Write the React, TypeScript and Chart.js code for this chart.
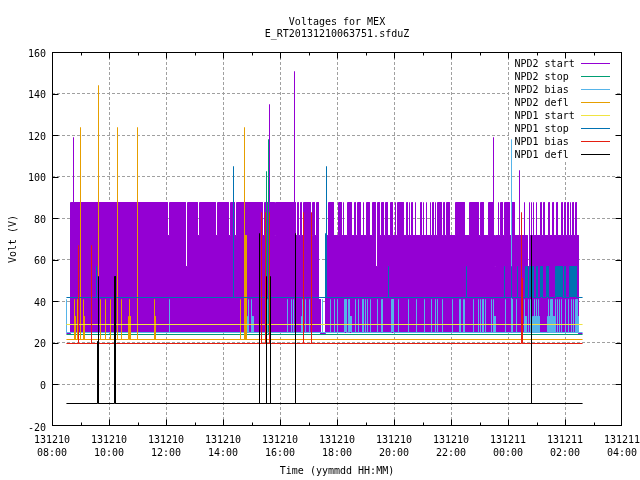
import React, { useEffect, useRef } from "react";
import { Chart, registerables } from "chart.js";

Chart.register(...registerables);

type Pulse = number[];

const MONO = "'DejaVu Sans Mono'";
const chartTitle = ["Voltages for MEX", "E_RT20131210063751.sfduZ"];
const xTitle = "Time (yymmdd HH:MM)";
const yTitle = "Volt (V)";
const dayLabels = ["131210", "131210", "131210", "131210", "131210", "131210", "131210", "131210", "131211", "131211", "131211"];
const hourLabels = ["08:00", "10:00", "12:00", "14:00", "16:00", "18:00", "20:00", "22:00", "00:00", "02:00", "04:00"];
const seriesNames = ["NPD2 start", "NPD2 stop", "NPD2 bias", "NPD2 defl", "NPD1 start", "NPD1 stop", "NPD1 bias", "NPD1 defl"];
const seriesColors = ["#9400d3", "#009e73", "#56b4e9", "#e69f00", "#f0e442", "#0072b2", "#e51e10", "#000000"];

// x values are hours after 08:00; pulses are [from, to, level]
const traceStart = 0.48;
const traceEnd = 18.58;

const npd2StartEarly: Pulse[] = [
  [0.74, 0.74, 119], [4.04, 4.1, 72], [4.67, 4.73, 57], [5.09, 5.15, 72], [5.72, 5.78, 72], [6.18, 6.24, 72], [6.39, 6.45, 72],
  [7.37, 7.43, 72], [7.61, 7.61, 135], [7.78, 7.84, 72], [8.49, 8.49, 151], [8.53, 8.59, 72], [8.64, 8.7, 72], [8.74, 8.8, 72],
  [9.06, 9.12, 72], [9.2, 9.26, 72],
];
const npd2StartLate: Pulse[] = [
  [9.69, 9.87, 88], [10.02, 10.15, 88], [10.22, 10.22, 88], [10.36, 10.5, 88], [10.58, 10.64, 88], [10.71, 10.81, 88],
  [10.91, 10.91, 88], [11.02, 11.13, 88], [11.22, 11.32, 88], [11.34, 11.4, 57], [11.41, 11.46, 88], [11.55, 11.6, 88],
  [11.69, 11.76, 88], [11.86, 11.93, 88], [12.04, 12.04, 88], [12.11, 12.32, 88], [12.42, 12.46, 88], [12.53, 12.53, 88],
  [12.6, 12.63, 88], [12.74, 12.74, 88], [12.91, 12.95, 88], [13.02, 13.02, 88], [13.12, 13.12, 88], [13.26, 13.26, 88],
  [13.33, 13.37, 88], [13.44, 13.44, 88], [13.51, 13.65, 88], [13.72, 13.75, 88], [13.82, 13.93, 88],
  [14.14, 14.46, 88], [14.64, 14.95, 88], [15.02, 15.13, 88], [15.31, 15.47, 88], [15.47, 15.47, 119], [15.5, 15.56, 57],
  [15.66, 15.66, 88], [15.73, 15.8, 88], [15.87, 16.04, 88], [16.11, 16.22, 88], [16.39, 16.39, 103], [16.57, 16.57, 88],
  [16.67, 16.73, 57], [16.74, 16.74, 88], [16.81, 16.81, 88], [16.88, 16.88, 88], [16.99, 16.99, 88], [17.13, 17.17, 88],
  [17.24, 17.27, 88], [17.41, 17.45, 88], [17.55, 17.59, 88], [17.69, 17.73, 88], [17.86, 17.9, 88], [17.97, 18.0, 88],
  [18.08, 18.11, 88], [18.18, 18.18, 88], [18.25, 18.29, 88], [18.35, 18.39, 88],
];
const npd2StopPulses: Pulse[] = [[7.51, 7.51, 102.5], [7.58, 7.58, 118]];
const npd2BiasPulses: Pulse[] = [
  [0.5, 0.5, 41], [4.09, 4.09, 41], [6.83, 6.88, 33], [6.88, 6.88, 41], [6.98, 7.04, 33], [6.98, 6.98, 41], [7.56, 7.56, 41],
  [8.25, 8.25, 41], [8.39, 8.39, 41], [8.46, 8.46, 41], [8.74, 8.77, 33], [8.77, 8.77, 41], [8.88, 8.88, 41], [9.02, 9.02, 41],
  [9.47, 9.47, 41], [9.75, 9.75, 41], [9.89, 9.89, 41], [10.0, 10.0, 41], [10.25, 10.32, 41], [10.4, 10.43, 41], [10.43, 10.48, 33],
  [10.63, 10.63, 41], [10.74, 10.74, 41], [10.88, 10.92, 41], [10.98, 10.98, 41], [11.05, 11.05, 41], [11.16, 11.16, 41],
  [11.4, 11.4, 41], [11.55, 11.59, 41], [11.9, 11.97, 41], [12.14, 12.14, 41], [12.49, 12.49, 41], [12.77, 12.77, 41],
  [13.05, 13.05, 41], [13.3, 13.3, 41], [13.44, 13.44, 41], [13.51, 13.51, 41], [13.68, 13.68, 41], [14.04, 14.04, 41],
  [14.29, 14.32, 41], [14.41, 14.41, 41], [14.44, 14.46, 41], [14.77, 14.77, 41], [14.95, 14.95, 41], [15.02, 15.02, 41],
  [15.1, 15.13, 41], [15.19, 15.19, 41], [15.4, 15.4, 41], [15.47, 15.55, 33], [15.47, 15.47, 41], [15.89, 15.89, 41],
  [16.11, 16.11, 118], [16.12, 16.15, 41], [16.28, 16.28, 41], [16.56, 16.62, 33], [16.55, 16.55, 41], [16.7, 16.7, 41],
  [16.83, 17.08, 33], [16.78, 16.82, 41], [16.9, 16.9, 41], [16.97, 16.97, 41], [17.05, 17.05, 41], [17.37, 17.6, 33],
  [17.39, 17.42, 41], [17.48, 17.56, 41], [17.65, 17.65, 41], [17.72, 17.72, 41], [17.79, 17.79, 41], [17.86, 17.86, 41],
  [18.0, 18.0, 41], [18.09, 18.12, 41], [18.21, 18.21, 41], [18.28, 18.28, 41], [18.35, 18.45, 33], [18.35, 18.42, 41],
];
const npd2DeflPulses: Pulse[] = [
  [0.77, 0.82, 33], [0.77, 0.77, 41], [0.88, 0.88, 41], [0.98, 0.98, 124], [1.09, 1.14, 33], [1.09, 1.09, 41], [1.61, 1.61, 144],
  [1.68, 1.68, 41], [1.86, 1.86, 41], [2.03, 2.03, 41], [2.28, 2.28, 124], [2.42, 2.42, 41], [2.65, 2.72, 33], [2.7, 2.7, 41],
  [2.98, 2.98, 124], [3.58, 3.63, 33], [3.58, 3.58, 41], [6.6, 6.6, 41], [6.74, 6.79, 72], [6.74, 6.74, 124],
];
const npd1StartPulses: Pulse[] = [];
const npd1StopPulses: Pulse[] = [
  [1.54, 1.54, 57], [6.35, 6.35, 105], [9.57, 9.57, 73], [9.6, 9.6, 105], [11.79, 11.79, 57], [14.53, 14.53, 57], [15.86, 15.86, 57],
  [16.11, 16.11, 57], [16.3, 16.3, 57], [16.6, 16.6, 57], [16.63, 16.66, 57], [16.75, 16.81, 57], [16.84, 16.86, 57], [16.97, 17.03, 57],
  [17.13, 17.21, 57], [17.33, 17.42, 57], [17.66, 17.91, 57], [17.97, 18.0, 57], [18.15, 18.4, 57],
];
const npd1BiasPulses: Pulse[] = [
  [0.91, 0.91, 67], [1.37, 1.37, 67], [7.33, 7.33, 83], [7.47, 7.47, 83], [7.61, 7.61, 83], [8.81, 8.81, 83], [9.09, 9.09, 83],
  [16.46, 16.46, 83], [16.46, 16.5, 51],
];
const npd1DeflPulses: Pulse[] = [
  [1.59, 1.62, 21], [1.61, 1.61, 52], [2.18, 2.22, 52], [7.26, 7.26, 73], [7.51, 7.51, 52], [7.65, 7.65, 52], [8.53, 8.53, 73],
  [16.81, 16.81, 72],
];

const npd2StartLevel = 24.76;
const npd2StopLevel = 24.3;
const npd2BiasLevel = 25.24;
const npd2DeflLevel = 21.9;
const npd1StartLevel = 29.1;
const npd1StopLevel = 42.1;
const npd1BiasLevel = 19.95;
const npd1DeflLevel = -8.9;

function trace(from: number, to: number, level: number, pulses: Pulse[]) {
  const pts: { x: number; y: number }[] = [{ x: from, y: level }];
  for (const [a, b, top] of pulses) {
    pts.push({ x: a, y: level }, { x: a, y: top }, { x: b, y: top }, { x: b, y: level });
  }
  pts.push({ x: to, y: level });
  return pts;
}

const npd2StartPoints = [
  ...trace(traceStart, 0.62, npd2StartLevel, []),
  ...trace(0.62, 9.32, 88, npd2StartEarly),
  ...trace(9.32, 9.39, 41, []),
  ...trace(9.39, 9.57, npd2StartLevel, []),
  ...trace(9.57, 18.45, 72, npd2StartLate),
  ...trace(18.45, traceEnd, npd2StartLevel, []),
];

const seriesPoints = [
  npd2StartPoints,
  trace(traceStart, traceEnd, npd2StopLevel, npd2StopPulses),
  trace(traceStart, traceEnd, npd2BiasLevel, npd2BiasPulses),
  trace(traceStart, traceEnd, npd2DeflLevel, npd2DeflPulses),
  trace(traceStart, traceEnd, npd1StartLevel, npd1StartPulses),
  trace(traceStart, traceEnd, npd1StopLevel, npd1StopPulses),
  trace(traceStart, traceEnd, npd1BiasLevel, npd1BiasPulses),
  trace(traceStart, traceEnd, npd1DeflLevel, npd1DeflPulses),
];
const fillLevels = [npd2StartLevel, npd2StopLevel, npd2BiasLevel, npd2DeflLevel, npd1StartLevel, npd1StopLevel, npd1BiasLevel, npd1DeflLevel];

const frame = {
  id: "frame",
  beforeDatasetsDraw(chart: any) {
    chart.getSortedVisibleDatasetMetas().forEach((meta: any) => {
      meta.data.forEach((el: any) => {
        el.x = Math.round(el.x) + 0.5;
        el.y = Math.round(el.y) + 0.5;
      });
    });
    chart.ctx.save();
    chart.ctx.fillStyle = "#ffffff";
    chart.ctx.fillRect(509, 56, 107, 105);
    chart.ctx.restore();
  },
  afterDatasetsDraw(chart: any) {
    const { ctx, chartArea: a, scales } = chart;
    const L = Math.round(a.left) + 0.5;
    const R = Math.round(a.right) - 0.5;
    const T = Math.round(a.top) + 0.5;
    const B = Math.round(a.bottom) - 0.5;
    ctx.save();
    ctx.strokeStyle = "#000000";
    ctx.lineWidth = 1;
    ctx.beginPath();
    for (const t of scales.x.ticks) {
      const x = Math.min(R, Math.round(scales.x.getPixelForValue(t.value)) + 0.5);
      const len = t.value % 2 === 0 ? 6 : 3;
      ctx.moveTo(x, B);
      ctx.lineTo(x, B - len);
      ctx.moveTo(x, T);
      ctx.lineTo(x, T + len);
    }
    for (const t of scales.y.ticks) {
      const y = Math.min(B, Math.round(scales.y.getPixelForValue(t.value)) + 0.5);
      ctx.moveTo(L, y);
      ctx.lineTo(L + 6, y);
      ctx.moveTo(R, y);
      ctx.lineTo(R - 6, y);
    }
    ctx.stroke();
    ctx.strokeRect(L, T, R - L, B - T);

    ctx.font = `10px ${MONO}`;
    ctx.textBaseline = "middle";
    ctx.textAlign = "left";
    chart.data.datasets.forEach((d: any, i: number) => {
      const y = 64 + i * 13;
      ctx.fillStyle = "#000000";
      ctx.fillText(d.label, 514.5, y);
      ctx.strokeStyle = d.borderColor;
      ctx.beginPath();
      ctx.moveTo(581, Math.round(y) - 0.5);
      ctx.lineTo(610, Math.round(y) - 0.5);
      ctx.stroke();
    });
    ctx.restore();
  },
};

export default function App() {
  const ref = useRef<HTMLCanvasElement>(null);
  useEffect(() => {
    const chart = new Chart(ref.current as HTMLCanvasElement, {
      type: "line",
      data: {
        datasets: seriesNames.map((label, i) => ({
          label,
          data: seriesPoints[i],
          borderColor: seriesColors[i],
          backgroundColor: seriesColors[i],
          borderWidth: 1,
          pointRadius: 0,
          tension: 0,
          fill: { value: fillLevels[i] },
          order: seriesNames.length - i,
        })),
      },
      options: {
        animation: false,
        responsive: false,
        events: [],
        color: "#000000",
        layout: { padding: { right: 18, left: 0, top: 0, bottom: 0 } },
        font: { family: MONO, size: 10 },
        plugins: {
          legend: { display: false },
          tooltip: { enabled: false },
          title: {
            display: true,
            text: chartTitle,
            fullSize: false,
            color: "#000000",
            font: { family: MONO, size: 10, weight: "normal", lineHeight: 1.2 },
            padding: { top: 16, bottom: 12 },
          },
        },
        scales: {
          x: {
            type: "linear",
            min: 0,
            max: 20,
            afterFit: (s: any) => { s.height = 54; s.paddingLeft = 0; s.paddingRight = 0; },
            border: { display: false, dash: [3, 2] },
            grid: {
              drawTicks: false,
              color: (c: any) => (c.tick && c.tick.value % 2 === 0 && c.tick.value > 0 && c.tick.value < 20 ? "#a0a0a0" : "rgba(0,0,0,0)"),
              lineWidth: 1,
            },
            ticks: {
              stepSize: 1,
              autoSkip: false,
              maxRotation: 0,
              minRotation: 0,
              padding: 8,
              color: "#000000",
              font: { family: MONO, size: 10, lineHeight: 1.3 },
              callback: (v: any) => (Number(v) % 2 === 0 ? [dayLabels[Number(v) / 2], hourLabels[Number(v) / 2]] : ""),
            },
            title: {
              display: true,
              text: xTitle,
              color: "#000000",
              font: { family: MONO, size: 10, lineHeight: 1.2 },
              padding: { top: 0, bottom: 3 },
            },
          },
          y: {
            type: "linear",
            min: -20,
            max: 160,
            afterFit: (s: any) => { s.width = 52; s.paddingTop = 0; s.paddingBottom = 0; },
            border: { display: false, dash: [3, 2] },
            grid: {
              drawTicks: false,
              color: (c: any) => (c.tick && c.tick.value > -20 && c.tick.value < 160 ? "#a0a0a0" : "rgba(0,0,0,0)"),
              lineWidth: 1,
            },
            ticks: {
              stepSize: 20,
              padding: 6,
              labelOffset: 2,
              color: "#000000",
              font: { family: MONO, size: 10 },
            },
            title: {
              display: true,
              text: yTitle,
              color: "#000000",
              font: { family: MONO, size: 10, lineHeight: 1.2 },
              padding: { top: 7, bottom: 0 },
            },
          },
        },
      } as any,
      plugins: [frame],
    });
    return () => chart.destroy();
  }, []);
  return (
    <div style={{ position: "fixed", left: 0, top: 0, width: 640, height: 480, background: "#fff" }}>
      <canvas ref={ref} width={640} height={480} style={{ display: "block" }} />
    </div>
  );
}
